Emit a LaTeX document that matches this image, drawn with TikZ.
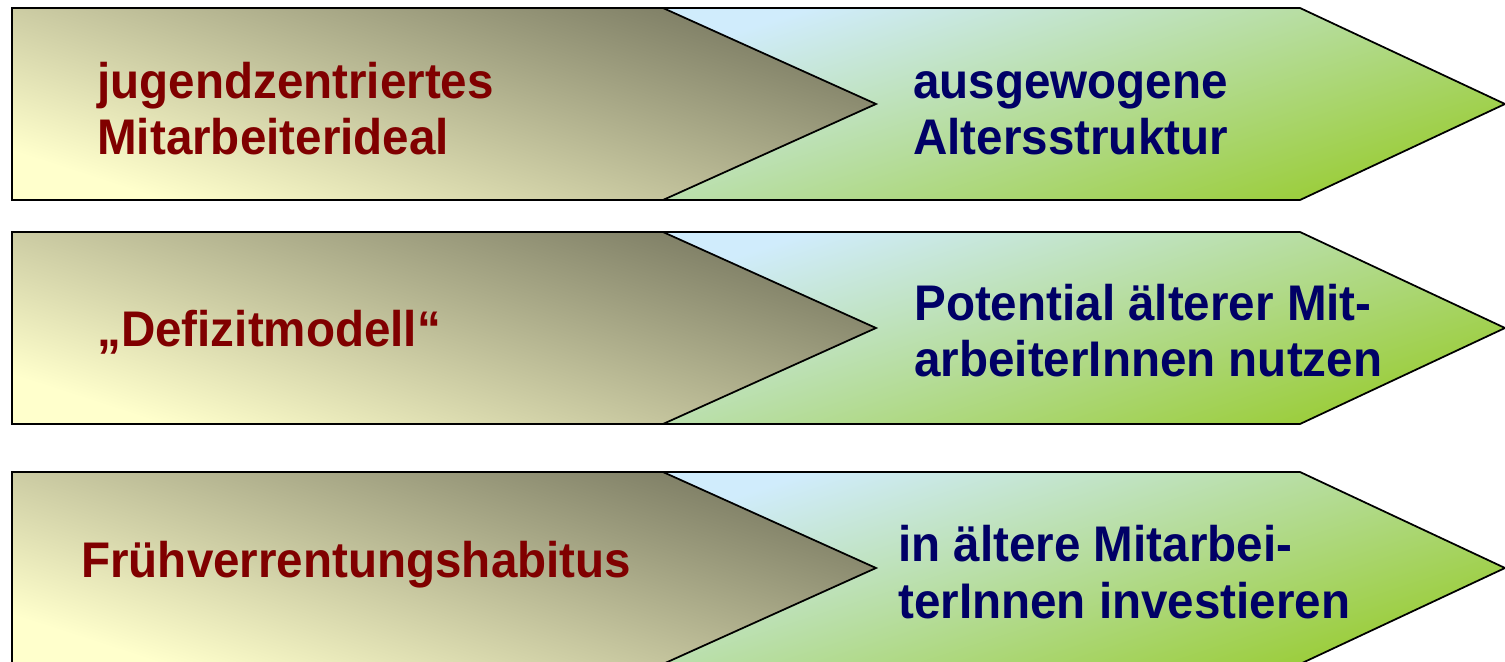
\documentclass[tikz,border=0pt]{standalone}
\usepackage{fontspec}
\setmainfont[FakeStretch=0.95]{Liberation Sans}
\definecolor{altrot}{RGB}{128,0,0}
\definecolor{neublau}{RGB}{0,0,102}
\definecolor{sandhell}{RGB}{255,255,204}
\definecolor{sanddunkel}{RGB}{122,122,98}
\definecolor{himmel}{RGB}{208,236,252}
\definecolor{gruen}{RGB}{153,204,51}
\tikzset{
  altpfeil/.style={draw=black,line width=1pt,bottom color=sandhell,top color=sanddunkel,shading angle=-18},
  neupfeil/.style={draw=black,line width=1pt,bottom color=gruen,top color=himmel,shading angle=18},
  alttext/.style={anchor=base west,inner sep=0pt,align=left,text=altrot,font=\fontsize{28.5}{32.4}\selectfont\bfseries},
  neutext/.style={alttext,text=neublau}
}
\begin{document}
\begin{tikzpicture}[x=0.02cm,y=-0.02cm]
\useasboundingbox (0,0) rectangle (1505,662);
%\fill[white] (0,0) rectangle (1505,662);
\foreach \oben in {8,232,472}{
  \path[neupfeil] (660,\oben) -- (1300,\oben) -- (1505,\oben+96) -- (1300,\oben+192) -- (660,\oben+192) -- cycle;
  \path[altpfeil] (12,\oben) -- (663,\oben) -- (876,\oben+96) -- (663,\oben+192) -- (12,\oben+192) -- cycle;
}
\node[alttext] (jugend) at (97,155) {jugendzentriertes\\Mitarbeiterideal};
\node[neutext] (alter) at (913,155) {ausgewogene\\Altersstruktur};
\node[alttext] (defizit) at (97,346) {„Defizitmodell“};
\node[neutext] (potential) at (914,377) {Potential älterer Mit-\\arbeiterInnen nutzen};
\node[alttext] (frueh) at (81,577) {Frühverrentungshabitus};
\node[neutext] (invest) at (898,618) {in ältere Mitarbei-\\terInnen investieren};
\end{tikzpicture}
\end{document}
